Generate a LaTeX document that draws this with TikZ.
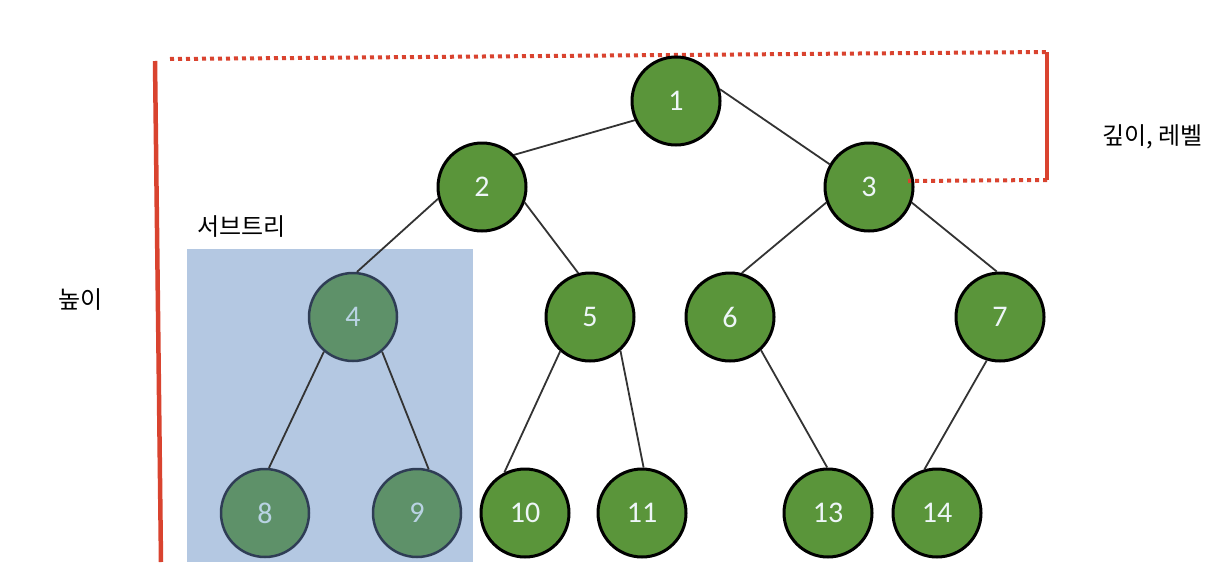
\documentclass[tikz,border=0pt]{standalone}
\usepackage{fontspec}
\setmainfont{Carlito}
\newfontfamily\krfont{Noto Sans CJK KR}
\definecolor{treegreen}{HTML}{5A953A}
\definecolor{fadegreen}{HTML}{5E9169}
\definecolor{fadeborder}{HTML}{2F3D55}
\definecolor{subblue}{HTML}{B4C8E2}
\definecolor{annred}{HTML}{D9432F}
\definecolor{numtext}{HTML}{EEF6F8}
\definecolor{fadetext}{HTML}{B9D3E3}
\definecolor{edgegray}{HTML}{333333}
\tikzset{
  treenode/.style={circle, minimum size=88pt, inner sep=0pt, fill=treegreen, draw=black, line width=3pt,
    text=numtext, font=\fontsize{30}{36}\selectfont},
  fadenode/.style={treenode, fill=fadegreen, draw=fadeborder, line width=2.5pt, text=fadetext},
  edge/.style={draw=edgegray, line width=1.8pt},
  redsolid/.style={draw=annred, line width=4.5pt},
  reddots/.style={draw=annred, line width=4pt, dash pattern=on 4pt off 4pt},
  label/.style={font=\krfont\fontsize{24}{28}\selectfont, text=black, inner sep=0pt}
}
\begin{document}
\begin{tikzpicture}[x=1pt, y=-1pt]
\useasboundingbox (0,0) rectangle (1225,562);
% subtree box
\fill[subblue] (187,249) rectangle (473,562);
% annotation coordinates
\coordinate (hTop) at (155,61);
\coordinate (hBot) at (161,562);
\coordinate (dL) at (170,59);
\coordinate (dR) at (1047,52);
\coordinate (dRB) at (1047,180);
\coordinate (d3) at (908,181);
\draw[reddots] (dL) -- (dR);
\draw[redsolid] (hTop) -- (hBot);
\draw[redsolid] (dR) -- (dRB);
% nodes
\node[treenode] (n1) at (676,101) {1};
\node[treenode] (n2) at (482,187) {2};
\node[treenode] (n3) at (869,187) {3};
\node[fadenode] (n4) at (353,317) {4};
\node[treenode] (n5) at (590,317) {5};
\node[treenode] (n6) at (730,317) {6};
\node[treenode] (n7) at (1000,317) {7};
\node[fadenode] (n8) at (265,513) {8};
\node[fadenode] (n9) at (417,513) {9};
\node[treenode] (n10) at (525,513) {10};
\node[treenode] (n11) at (642,513) {11};
\node[treenode] (n13) at (828,513) {13};
\node[treenode] (n14) at (937,513) {14};
\draw[reddots] (dRB) -- (d3);
% edges
\draw[edge] (n1.205) -- (n2.45);
\draw[edge] (n1.15) -- (n3.150);
\draw[edge] (n2.195) -- (n4.85);
\draw[edge] (n2.-20) -- (n5.105);
\draw[edge] (n3.200) -- (n6.75);
\draw[edge] (n3.-20) -- (n7.94);
\draw[edge] (n4.230) -- (n8.85);
\draw[edge] (n4.-50) -- (n9.75);
\draw[edge] (n5.229) -- (n10.117);
\draw[edge] (n5.-48) -- (n11.88);
\draw[edge] (n6.-47) -- (n13.91);
\draw[edge] (n7.253) -- (n14.106);
% labels
\node[label, anchor=west] (lsub) at (197,227) {서브트리};
\node[label, anchor=west] (lh) at (58,300) {높이};
\node[label, anchor=west] (ld) at (1102,137) {깊이, 레벨};
\end{tikzpicture}
\end{document}
